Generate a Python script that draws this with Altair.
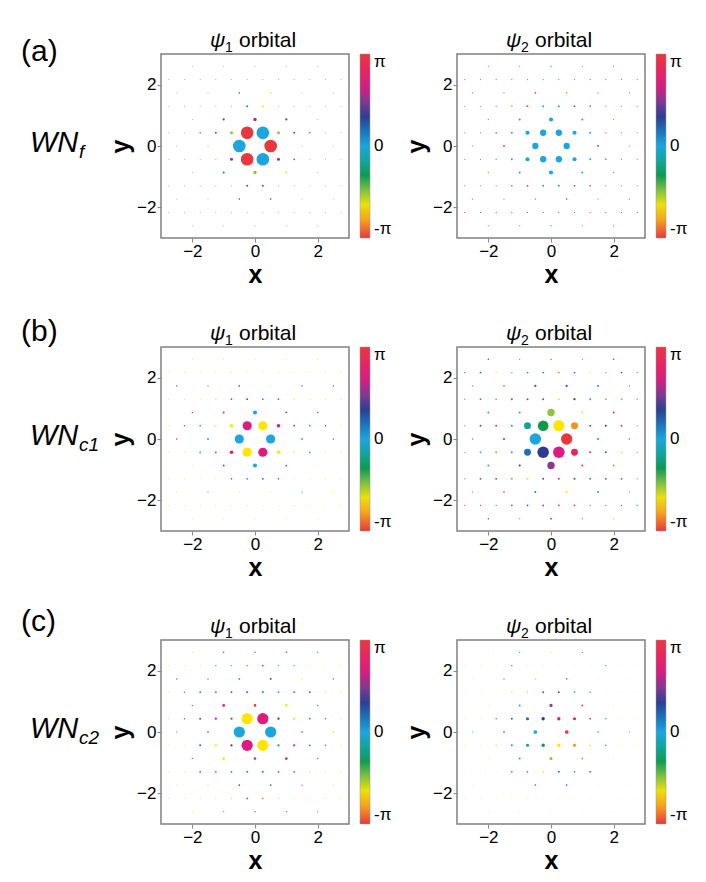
import math
import sys
import pandas as pd
import altair as alt

PI = math.pi
SQ = math.sqrt(3) / 4  # row height of the kagome lattice (lattice constant 1)

# phase shorthands (radians)
R, OR, Y, YG, G, T, C, B, DB, P, M, PK = 3.14, -2.62, -2.09, -1.57, -1.05, -0.52, 0.0, 0.52, 1.05, 1.57, 2.09, 2.62

# colour bar: phase -> colour
PH_DOMAIN = [-PI, -2.62, -2.09, -1.57, -1.05, -0.52, 0.0, 0.52, 1.05, 1.57, 2.09, 2.62, PI]
PH_COLORS = ['#e8373e', '#f39221', '#ffe500', '#8dc63f', '#0d9a4b', '#11a59a', '#1ba6e0',
             '#1b72b8', '#2e3a8f', '#8b3a92', '#e0197e', '#e7275f', '#e8373e']

# kagome sites: row index n (y = n*SQ) and x positions in each kind of row
ROWS_N = [-6, -5, -4, -3, -2, -1, 0, 1, 2, 3, 4, 5, 6]
ODD_X = [-2.75, -2.25, -1.75, -1.25, -0.75, -0.25, 0.25, 0.75, 1.25, 1.75, 2.25, 2.75]
ROW0_X = [-2.5, -1.5, -0.5, 0.5, 1.5, 2.5]
ROW2_X = [-2, -1, 0, 1, 2]

# (x, n, marker area px^2, phase)
A1 = [(-0.25, 1, 160, R), (0.25, 1, 160, C), (0.5, 0, 160, R), (-0.5, 0, 160, C),
      (-0.25, -1, 160, R), (0.25, -1, 160, C),
      (0, 2, 12, P), (0, -2, 12, YG), (-1, 2, 5, P), (1, 2, 5, P), (-1, -2, 4, G), (1, -2, 4, Y),
      (-0.75, 1, 9, YG), (0.75, 1, 9, YG), (-0.75, -1, 9, P), (0.75, -1, 9, P),
      (-0.25, 3, 4, G), (0.25, 3, 4, Y), (-0.25, -3, 4, P), (0.25, -3, 4, P),
      (-1.25, 1, 4, M), (1.25, 1, 4, P), (-1.25, -1, 3, Y), (1.25, -1, 3, G),
      (1.75, 1, 2.5, M), (-1.75, 1, 2, P),
      (-0.5, 4, 2.5, G), (0.5, 4, 2.5, Y), (-0.5, -4, 2.5, P), (0.5, -4, 2.5, P)]
A1_FAINT = (1.0, YG)

A2 = [(-0.25, 1, 40, C), (0.25, 1, 40, C), (-0.5, 0, 40, C), (0.5, 0, 40, C),
      (-0.25, -1, 40, C), (0.25, -1, 40, C),
      (0, 2, 17, C), (0, -2, 17, C), (-0.75, 1, 17, C), (0.75, 1, 17, C),
      (-0.75, -1, 17, C), (0.75, -1, 17, C),
      (-1, 2, 4, C), (1, 2, 4, C), (-1, -2, 4, C), (1, -2, 4, C),
      (-1.25, 1, 4, C), (1.25, 1, 4, C), (-1.25, -1, 4, C), (1.25, -1, 4, C),
      (-0.25, 3, 4, C), (0.25, 3, 4, C), (-0.25, -3, 4, C), (0.25, -3, 4, C),
      (-1.5, 0, 3.5, R), (1.5, 0, 3.5, R), (-0.75, 3, 3.5, R), (0.75, 3, 3.5, R),
      (-0.75, -3, 3.5, R), (0.75, -3, 3.5, R),
      (-1.75, 1, 2.5, R), (1.75, 1, 2.5, OR), (-1.75, -1, 2.5, OR), (1.75, -1, 2.5, R),
      (-0.5, 4, 2.5, R), (0.5, 4, 2.5, OR), (-0.5, -4, 2.5, OR), (0.5, -4, 2.5, R),
      (-1.25, 3, 2.5, OR), (1.25, 3, 2.5, R), (-1.25, -3, 2.5, R), (1.25, -3, 2.5, R),
      (0, 6, 2, C), (0, -6, 2, C), (-2, 2, 2, OR), (2, 2, 2, OR), (-2, -2, 2, OR), (2, -2, 2, OR)]
A2_FAINT = (1.1, R)

B1 = [(-0.25, 1, 84, M), (0.25, 1, 84, Y), (-0.5, 0, 84, C), (0.5, 0, 84, C),
      (-0.25, -1, 84, Y), (0.25, -1, 84, M),
      (0, 2, 17, C), (0, -2, 17, C), (-0.75, 1, 13, Y), (0.75, 1, 13, M),
      (-0.75, -1, 13, M), (0.75, -1, 13, Y),
      (-1, 2, 3.5, PK), (1, 2, 3, M), (-1, -2, 3.5, M), (1, -2, 3, PK),
      (-0.25, 3, 3.5, M), (0.25, 3, 3.5, C), (-0.25, -3, 3.5, C), (0.25, -3, 3.5, M),
      (-1.5, 0, 3.5, C), (1.5, 0, 3.5, C),
      (-1.25, 1, 2.5, Y), (1.25, 1, 3, M), (-1.25, -1, 3, M), (1.25, -1, 2.5, Y),
      (-1.75, 1, 3, C), (1.75, 1, 3, C), (-1.75, -1, 3, C), (1.75, -1, 3, C),
      (-2.25, 1, 2.5, M), (2.25, 1, 2, M),
      (-0.75, 3, 2.5, M), (0.75, 3, 2.5, M), (-1.25, 3, 2, Y), (1.25, 3, 2, Y),
      (-0.75, -3, 2.5, M), (0.75, -3, 2.5, M),
      (-0.5, 4, 2.5, M), (-1.5, 4, 2, C), (1.5, 4, 2.5, C), (-2.5, 4, 2, M), (2.5, 4, 2, M),
      (-1.5, -4, 2, C), (1.5, -4, 2, C),
      (-2, 2, 2, M), (2, 2, 2, M), (-2.5, 0, 2, M), (2.5, 0, 2, M)]
B1_FAINT = (1.0, Y)

B2 = [(-0.25, 1, 113, G), (0.25, 1, 127, Y), (-0.5, 0, 133, C), (0.5, 0, 127, R),
      (-0.25, -1, 133, DB), (0.25, -1, 133, M),
      (0, 2, 55, YG), (0, -2, 55, P), (-0.75, 1, 48, T), (0.75, 1, 48, OR),
      (-0.75, -1, 48, B), (0.75, -1, 48, PK),
      (-1.5, 4, 4, OR), (-0.5, 4, 5, P), (0.5, 4, 5, P), (1.5, 4, 4, T),
      (-2.75, 5, 2, PK), (-2.25, 5, 3, B), (-1.75, 5, 2, Y), (-0.75, 5, 3.5, C), (-0.25, 5, 3.5, T),
      (0.25, 5, 3.5, OR), (0.75, 5, 3.5, R), (1.25, 5, 2, Y), (2.25, 5, 3, B),
      (-2, 6, 2.5, P), (0, 6, 3.5, YG), (2, 6, 2.5, PK),
      (-2.25, 3, 3.5, T), (-1.75, 3, 3.5, YG), (-1.25, 3, 4, R), (-0.75, 3, 4, PK),
      (-0.25, 3, 4, G), (0.25, 3, 4, Y), (0.75, 3, 4.5, DB), (1.25, 3, 4, C),
      (1.75, 3, 3.5, YG), (2.25, 3, 3.5, OR),
      (-2, 2, 3.5, C), (-1, 2, 4, C), (1, 2, 4, Y), (2, 2, 3.5, PK),
      (-2.25, 1, 3.5, P), (-1.75, 1, 4, R), (-1.25, 1, 4, T), (1.25, 1, 4, PK),
      (1.75, 1, 4, DB), (2.25, 1, 3.5, PK),
      (-2.5, 0, 2, C), (-1.5, 0, 5, R), (1.5, 0, 5, C), (2.5, 0, 2, PK),
      (-2.25, -1, 3, C), (-1.75, -1, 4, OR), (-1.25, -1, 4, C), (1.25, -1, 4, R),
      (1.75, -1, 4, G), (2.25, -1, 3, Y),
      (-2, -2, 3.5, C), (-1, -2, 4, DB), (1, -2, 4, R), (2, -2, 3.5, OR),
      (-2.25, -3, 3.5, B), (-1.75, -3, 3.5, P), (-1.25, -3, 4, OR), (-0.75, -3, 4, Y),
      (-0.25, -3, 4, P), (0.25, -3, 4, PK), (0.75, -3, 4.5, G), (1.25, -3, 4, T),
      (1.75, -3, 3.5, P), (2.25, -3, 3.5, PK),
      (-1.5, -4, 2.5, PK), (-0.5, -4, 4, G), (0.5, -4, 4, Y), (1.5, -4, 3.5, B),
      (-1.25, -5, 2.5, B), (-0.75, -5, 3, B), (-0.25, -5, 3, P), (0.25, -5, 3, R),
      (0.75, -5, 3, PK), (2.75, -5, 2, C),
      (-2, -6, 2, P), (0, -6, 3, P), (2, -6, 2, Y)]
B2_FAINT = (1.2, PK)

C1 = [(-0.25, 1, 126, Y), (0.25, 1, 126, M), (-0.5, 0, 126, C), (0.5, 0, 126, C),
      (-0.25, -1, 126, M), (0.25, -1, 126, Y),
      (-1, 2, 7, M), (0, 2, 7, R), (1, 2, 7, Y), (-1, -2, 7, Y), (0, -2, 7, R), (1, -2, 7, M),
      (-2.75, 1, 1.5, Y), (-2.25, 1, 2, PK), (-1.75, 1, 4, B), (-1.25, 1, 5, M), (-0.75, 1, 5, G),
      (0.75, 1, 5, DB), (1.25, 1, 5, Y), (1.75, 1, 3, T), (2.25, 1, 2, PK),
      (-1.75, -1, 4, G), (-1.25, -1, 5, Y), (-0.75, -1, 5, DB), (0.75, -1, 5, G),
      (1.25, -1, 5, M), (1.75, -1, 3, B), (2.25, -1, 2, PK),
      (-2.25, 3, 2, PK), (-1.75, 3, 3, G), (-1.25, 3, 3, R), (-0.75, 3, 3, P),
      (-0.25, 3, 5, C), (0.25, 3, 5, C), (0.75, 3, 3, T), (1.25, 3, 3, R),
      (1.75, 3, 3, P), (2.25, 3, 2, Y),
      (-1.75, -3, 3, P), (-1.25, -3, 3, R), (-0.75, -3, 3, G), (-0.25, -3, 5, C),
      (0.25, -3, 5, C), (0.75, -3, 3, P), (1.25, -3, 3, R), (1.75, -3, 2, Y),
      (-1.5, 0, 3, R), (1.5, 0, 3, R), (-2.5, 0, 2, OR), (2.5, 0, 1.5, OR),
      (-2, 2, 2.5, C), (2, 2, 2.5, C), (-2, -2, 2.5, C), (2, -2, 2.5, C),
      (-0.5, 4, 3, T), (0.5, 4, 3, DB), (-1.5, 4, 2, PK), (1.5, 4, 2, Y),
      (-2.5, 4, 2, PK), (2.5, 4, 2, PK),
      (-0.5, -4, 3, P), (0.5, -4, 3, G), (-1.5, -4, 2, Y), (1.5, -4, 2, PK),
      (-0.25, 5, 3, OR), (0.25, 5, 3, PK), (-0.75, 5, 2, C), (0.75, 5, 2, C),
      (-1.25, 5, 2, C), (1.25, 5, 2, C),
      (-0.25, -5, 3, R), (0.25, -5, 3, OR), (-0.75, -5, 2, Y), (0.75, -5, 2, Y),
      (-1, 6, 2, P), (0, 6, 2, R), (1, 6, 2, P), (-2, 6, 1.5, Y), (2, 6, 1.5, C),
      (-1, -6, 1.5, C), (0, -6, 2, PK), (1, -6, 1.5, P), (2, -6, 1.5, C)]
C1_FAINT = (1.0, Y)

C2 = [(0, 2, 10, P), (0, -2, 10, YG), (-0.5, 0, 14, C), (0.5, 0, 14, R),
      (-0.25, 1, 11, DB), (0.25, 1, 11, M), (-0.25, -1, 11, G), (0.25, -1, 11, Y),
      (-0.75, 1, 10, B), (0.75, 1, 10, PK), (-0.75, -1, 10, T), (0.75, -1, 10, OR),
      (-1, 2, 4, C), (1, 2, 3.5, R), (-1, -2, 4, C), (1, -2, 3.5, OR),
      (-1.25, 1, 3.5, B), (1.25, 1, 3, PK), (-1.25, -1, 3.5, T), (1.25, -1, 3, Y),
      (-1.75, 1, 2, PK), (1.75, 1, 2.5, C), (-1.75, -1, 2.5, Y), (1.75, -1, 2.5, T),
      (-1.5, 0, 3, R), (1.5, 0, 3, C), (2.5, 0, 2, OR), (-2.5, 0, 1.5, C),
      (-0.25, 3, 4, PK), (0.25, 3, 4, P), (-0.75, 3, 2.5, Y), (0.75, 3, 2.5, T),
      (-1.25, 3, 2, Y), (1.25, 3, 2, B),
      (-0.25, -3, 3, Y), (0.25, -3, 4, G), (-0.75, -3, 2.5, PK), (0.75, -3, 2.5, P),
      (-1.25, -3, 2.5, P), (1.25, -3, 2.5, DB),
      (-0.5, 4, 2.5, Y), (0.5, 4, 2.5, T), (-1.5, 4, 1.5, PK),
      (-0.5, -4, 2.5, PK), (0.5, -4, 2.5, P),
      (-1.25, 5, 2, PK), (1.75, 5, 2, T),
      (-1, 6, 1.5, T), (0, 6, 1.5, Y), (1, 6, 1.5, P)]
C2_FAINT = (0.8, Y)

ROW_LETTERS = ["(a)", "(b)", "(c)"]
ROW_SUBS = ["f", "c1", "c2"]
ROW_LETTER_Y = [7, -6, -9]

W, H = 188, 184


def row_x(n):
    if n % 2:
        return ODD_X
    if n % 4 == 0:
        return ROW0_X
    return ROW2_X


def build(pts, faint):
    sites = {(x, n) for n in ROWS_N for x in row_x(n)}
    d = {}
    for x, n, s, p in pts:
        if (x, n) not in sites:
            print("not a lattice site:", x, n, file=sys.stderr)
        d[(x, n)] = (s, p)
    rows = []
    for n in ROWS_N:
        for x in row_x(n):
            s, p = d.get((x, n), faint)
            rows.append({"x": x, "y": n * SQ, "s": s, "phase": p})
    return pd.DataFrame(rows)


ONE = pd.DataFrame({"k": [0]})


def txt(s, x, y, size, style="normal"):
    return alt.Chart(ONE).mark_text(
        text=s, align="left", baseline="alphabetic", fontSize=size,
        fontStyle=style, color="black"
    ).encode(x=alt.value(x), y=alt.value(y))


LEG = alt.Legend(
    title=None, orient="right", direction="vertical", gradientLength=H,
    gradientThickness=10, values=[-PI, 0, PI],
    labelExpr="datum.value > 1 ? 'π' : (datum.value < -1 ? '-π' : '0')",
    labelFontSize=17, labelOverlap=False, offset=11, padding=0, labelBaseline="middle",
    gradientStrokeColor="#999", gradientStrokeWidth=0.5, labelOffset=4,
)


def panel(pts, faint, k, row):
    df = build(pts, faint)
    scat = alt.Chart(df).mark_circle(opacity=1).encode(
        x=alt.X("x:Q", scale=alt.Scale(domain=[-3, 3], nice=False, zero=False),
                axis=alt.Axis(values=[-2, 0, 2], title="x")),
        y=alt.Y("y:Q", scale=alt.Scale(domain=[-3, 3], nice=False, zero=False),
                axis=alt.Axis(values=[-2, 0, 2], title="y")),
        size=alt.Size("s:Q", scale=None),
        color=alt.Color("phase:Q", scale=alt.Scale(domain=PH_DOMAIN, range=PH_COLORS,
                                                   interpolate="rgb"), legend=LEG),
        order=alt.Order("s:Q", sort="ascending"),
    )
    layers = [scat,
              txt("ψ", 49, -7, 21, "italic"),
              txt(str(k), 64, -2, 14),
              txt("orbital", 78, -7, 21)]
    if k == 1:
        layers += [txt(ROW_LETTERS[row], -140, ROW_LETTER_Y[row], 30),
                   txt("WN", -131, 98, 29, "italic"),
                   txt(ROW_SUBS[row], -82, 104, 19, "italic")]
    return alt.layer(*layers).properties(width=W, height=H)


DATA = [(A1, A1_FAINT, A2, A2_FAINT), (B1, B1_FAINT, B2, B2_FAINT), (C1, C1_FAINT, C2, C2_FAINT)]
panels = []
for r, (p1, f1, p2, f2) in enumerate(DATA):
    panels += [panel(p1, f1, 1, r), panel(p2, f2, 2, r)]

chart = (
    alt.concat(*panels, columns=2, spacing={"row": 109, "column": 108}, bounds="flush")
    .resolve_scale(color="independent")
    .properties(padding={"left": 12, "top": 21, "right": 5, "bottom": 5})
    .configure(font="Liberation Sans")
    .configure_axis(labelFontSize=17, titleFontSize=25, titleFontWeight="bold", grid=False,
                    domain=False, tickColor="#888", tickSize=4, labelColor="black",
                    titleColor="black", labelPadding=1, titlePadding=3)
    .configure_view(stroke="#808080", strokeWidth=1.5)
)

chart.save("out.html", embed_options={"renderer": "svg", "actions": False})
